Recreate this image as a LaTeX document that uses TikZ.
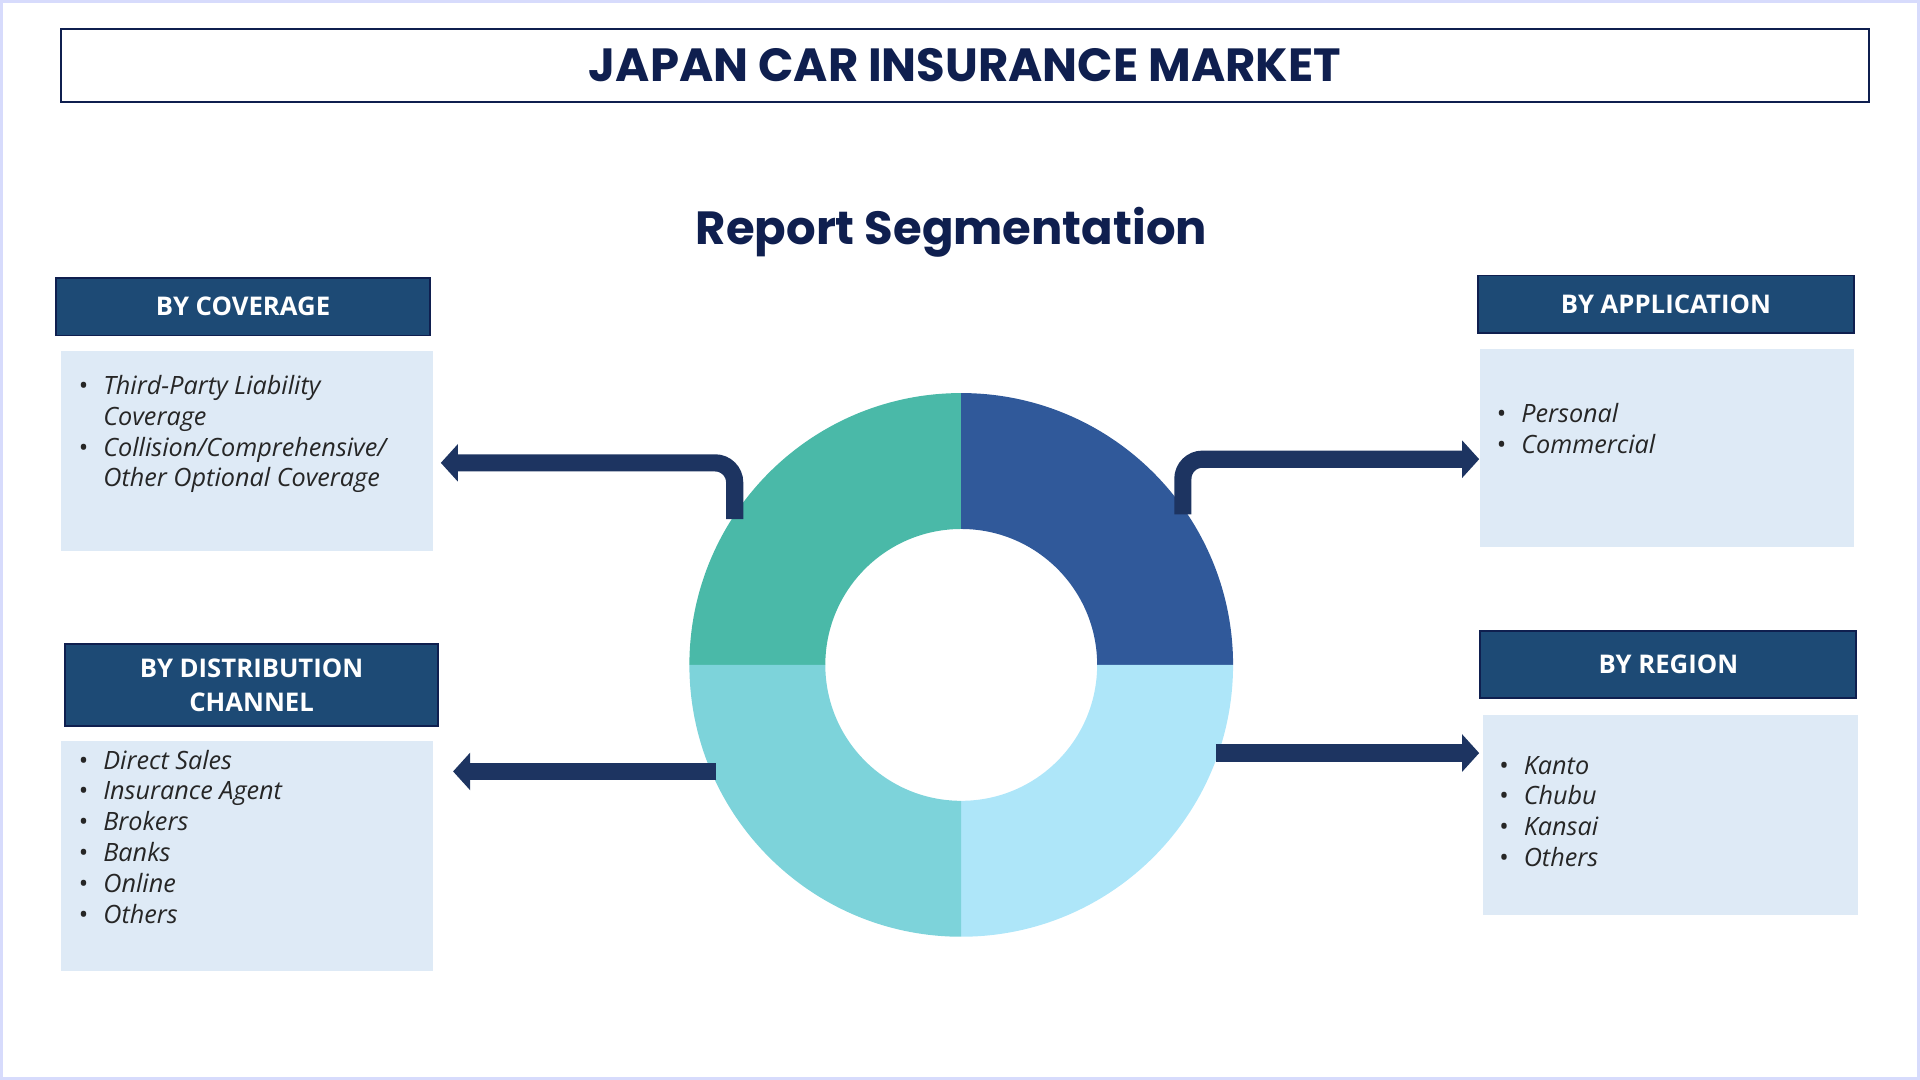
\documentclass[tikz,border=0pt]{standalone}
\usepackage{fontspec}
\setmainfont{Open Sans}
\newfontfamily\popp{Poppins}
\usetikzlibrary{arrows.meta}
\definecolor{navy}{HTML}{0F1F4F}
\definecolor{hdr}{HTML}{1D4A75}
\definecolor{cbox}{HTML}{DEEAF6}
\definecolor{arr}{HTML}{1D3461}
\definecolor{qa}{HTML}{4AB9A8}
\definecolor{qb}{HTML}{30599A}
\definecolor{qc}{HTML}{AEE6F9}
\definecolor{qd}{HTML}{7DD3DA}
\tikzset{
 hbox/.style={fill=hdr,draw=navy,line width=0.8pt,text=white,font=\bfseries\fontsize{10.5}{14}\selectfont,align=center,inner sep=0pt},
 cboxs/.style={fill=cbox,inner sep=0pt},
 lst/.style={anchor=north west,align=left,font=\itshape\fontsize{10.3}{12.6}\selectfont,inner sep=0pt,text=black!85},
 fat/.style={draw=arr,line width=7pt,-{Triangle[length=7pt,width=15pt]},rounded corners=8pt}
}
\newcommand{\bul}{\makebox[10pt][l]{\upshape\textbullet}}
\newcommand{\ind}{\hspace*{10pt}}
\begin{document}
\begin{tikzpicture}[x=0.5pt,y=-0.5pt]
\useasboundingbox (0,0) rectangle (1568,882);
\draw[draw=cbox!70!blue!40,line width=1.5pt] (1,1) rectangle (1567,881);
\node[draw=navy,line width=0.8pt,minimum width=738pt,minimum height=29.5pt,inner sep=0pt,font=\popp\bfseries\fontsize{19}{22}\selectfont,text=navy] (title) at (788,53.5) {JAPAN CAR INSURANCE MARKET};
\node[font=\popp\bfseries\fontsize{19}{22}\selectfont,text=navy] (rs) at (777,190) {Report Segmentation};
% donut
\begin{scope}[shift={(785,543)},yscale=-1]
\fill[qa] (180:222) arc[start angle=180,end angle=90,radius=222] -- (90:111) arc[start angle=90,end angle=180,radius=111] -- cycle;
\fill[qb] (90:222) arc[start angle=90,end angle=0,radius=222] -- (0:111) arc[start angle=0,end angle=90,radius=111] -- cycle;
\fill[qc] (0:222) arc[start angle=0,end angle=-90,radius=222] -- (-90:111) arc[start angle=-90,end angle=0,radius=111] -- cycle;
\fill[qd] (-90:222) arc[start angle=-90,end angle=-180,radius=222] -- (180:111) arc[start angle=180,end angle=270,radius=111] -- cycle;
\end{scope}
% boxes
\node[hbox,minimum width=152.5pt,minimum height=23.5pt] (h1) at (198.5,250.5) {BY COVERAGE};
\node[cboxs,minimum width=152pt,minimum height=81.5pt] (b1) at (202,368.5) {};
\node[lst] (l1) at (64,306) {\bul Third-Party Liability\\\ind Coverage\\\bul Collision/Comprehensive/\\\ind Other Optional Coverage};
\node[hbox,minimum width=153.5pt,minimum height=23.5pt] (h2) at (1360.5,248.5) {BY APPLICATION};
\node[cboxs,minimum width=152.5pt,minimum height=81pt] (b2) at (1361.5,366) {};
\node[lst] (l2) at (1222,329) {\bul Personal\\\bul Commercial};
\node[hbox,minimum width=152.5pt,minimum height=33.5pt] (h3) at (205.5,559.5) {BY DISTRIBUTION\\CHANNEL};
\node[cboxs,minimum width=152pt,minimum height=94pt] (b3) at (202,699) {};
\node[lst] (l3) at (64,612) {\bul Direct Sales\\\bul Insurance Agent\\\bul Brokers\\\bul Banks\\\bul Online\\\bul Others};
\node[hbox,minimum width=153.5pt,minimum height=27.5pt] (h4) at (1362.5,542.5) {BY REGION};
\node[cboxs,minimum width=153pt,minimum height=81.5pt] (b4) at (1364,665.5) {};
\node[lst] (l4) at (1224,617) {\bul Kanto\\\bul Chubu\\\bul Kansai\\\bul Others};
% arrows
\coordinate (s1) at (600,424); \coordinate (s2) at (966,420);
\coordinate (s3) at (585,630); \coordinate (s4) at (993,615);
\coordinate (e1) at (360,378); \coordinate (e2) at (1208,375);
\coordinate (e3) at (370,630); \coordinate (e4) at (1208,615);
\draw[fat] (s1) |- (e1);
\draw[fat] (s2) |- (e2);
\draw[fat] (s3) -- (e3);
\draw[fat] (s4) -- (e4);
\end{tikzpicture}
\end{document}
